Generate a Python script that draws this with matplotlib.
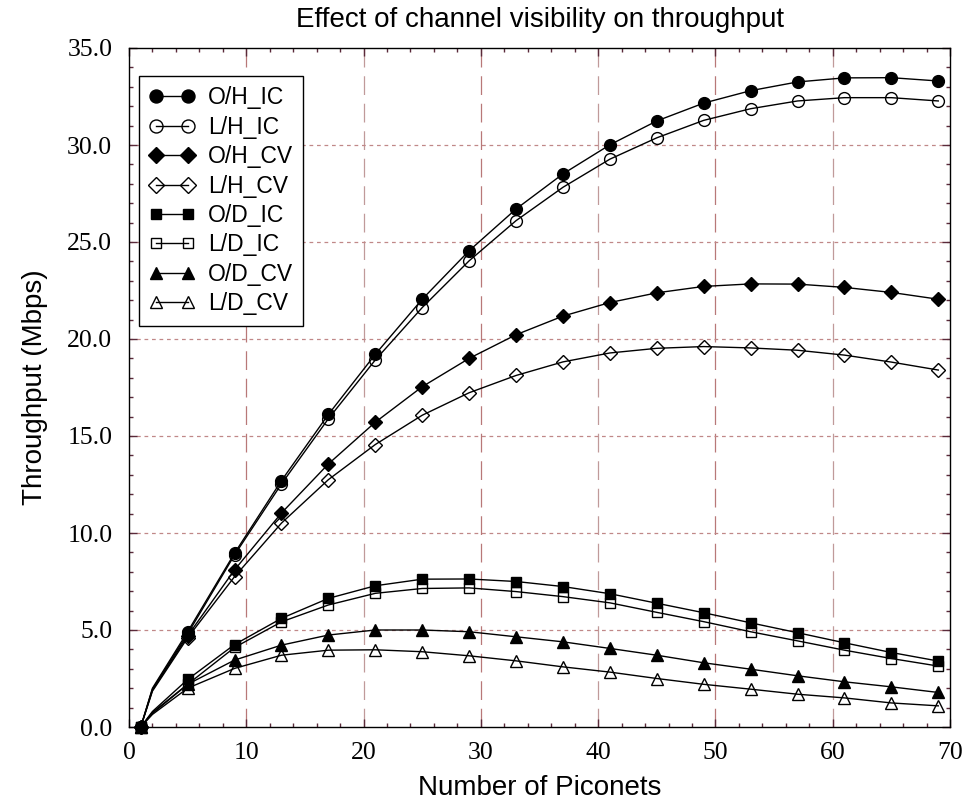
import matplotlib
matplotlib.use("Agg")
import matplotlib.pyplot as plt
from matplotlib.ticker import MultipleLocator, FormatStrFormatter

# ---- data ----
x = [1, 2, 5, 9, 13, 17, 21, 25, 29, 33, 37, 41, 45, 49, 53, 57, 61, 65, 69]
labels = ["O/H_IC", "L/H_IC", "O/H_CV", "L/H_CV", "O/D_IC", "L/D_IC", "O/D_CV", "L/D_CV"]
oh_ic = [0, 2.0, 4.91, 8.96, 12.7, 16.11, 19.21, 22.05, 24.55, 26.7, 28.51, 30.01, 31.24, 32.16, 32.8, 33.25, 33.46, 33.47, 33.3]
lh_ic = [0, 1.95, 4.8, 8.87, 12.53, 15.89, 18.92, 21.62, 24.03, 26.1, 27.82, 29.27, 30.37, 31.27, 31.87, 32.27, 32.44, 32.44, 32.27]
oh_cv = [0, 1.9, 4.7, 8.1, 11.03, 13.56, 15.71, 17.54, 19.0, 20.22, 21.18, 21.88, 22.38, 22.71, 22.84, 22.83, 22.66, 22.4, 22.05]
lh_cv = [0, 1.85, 4.6, 7.75, 10.51, 12.75, 14.56, 16.07, 17.23, 18.12, 18.82, 19.28, 19.52, 19.61, 19.54, 19.42, 19.17, 18.81, 18.4]
od_ic = [0, 0.8, 2.45, 4.25, 5.6, 6.63, 7.28, 7.62, 7.63, 7.5, 7.24, 6.87, 6.38, 5.89, 5.37, 4.86, 4.34, 3.84, 3.4]
ld_ic = [0, 0.75, 2.2, 4.1, 5.42, 6.29, 6.89, 7.14, 7.17, 6.98, 6.72, 6.4, 5.91, 5.43, 4.91, 4.44, 3.96, 3.53, 3.14]
od_cv = [0, 0.7, 2.2, 3.45, 4.22, 4.74, 5.0, 5.0, 4.91, 4.65, 4.39, 4.05, 3.7, 3.31, 2.98, 2.64, 2.33, 2.07, 1.78]
ld_cv = [0, 0.65, 2.0, 3.02, 3.7, 3.96, 3.98, 3.88, 3.67, 3.41, 3.1, 2.83, 2.5, 2.2, 1.95, 1.69, 1.5, 1.24, 1.09]
series = [oh_ic, lh_ic, oh_cv, lh_cv, od_ic, ld_ic, od_cv, ld_cv]
markers = ["o", "o", "D", "D", "s", "s", "^", "^"]
filled = [True, False, True, False, True, False, True, False]
msizes = [8.5, 8.5, 7.0, 7.0, 7.0, 7.0, 8.5, 8.5]
mark_idx = [0] + list(range(2, len(x)))

SANS = ["Liberation Sans", "DejaVu Sans"]
SERIF = ["Liberation Serif", "DejaVu Serif"]

fig = plt.figure(figsize=(9.69, 8.09), dpi=100)
ax = fig.add_axes([129/969, 1-727/809, 821/969, 679/809])

# grid
for gx in range(10, 70, 10):
    ax.axvline(gx, color="#b87878" if (gx // 10) % 2 else "#c09a9a",
               lw=0.9, ls=(0, (15, 7)), zorder=1)
for gy in range(5, 35, 5):
    ax.axhline(gy, color="#c08888", lw=0.9, ls=(0, (3, 3)), zorder=1)

for vals, lab, m, f, ms in zip(series, labels, markers, filled, msizes):
    ax.plot(x, vals, color="black", lw=1.0, marker=m, markersize=ms,
            markevery=mark_idx, markerfacecolor="black" if f else "none",
            markeredgecolor="black", markeredgewidth=1.0, label=lab,
            clip_on=False, zorder=3)

ax.set_xlim(0, 70)
ax.set_ylim(0, 35)
ax.xaxis.set_major_locator(MultipleLocator(10))
ax.xaxis.set_minor_locator(MultipleLocator(2))
ax.yaxis.set_major_locator(MultipleLocator(5))
ax.yaxis.set_minor_locator(MultipleLocator(1))
ax.yaxis.set_major_formatter(FormatStrFormatter("%.1f"))
ax.tick_params(which="both", direction="in", top=True, right=True, color="#5a2a3a")
ax.tick_params(which="major", length=6, width=1)
ax.tick_params(axis="y", which="major", pad=12)
ax.tick_params(axis="x", which="major", pad=11)
ax.tick_params(which="minor", length=3, width=1)
for lab in ax.get_xticklabels() + ax.get_yticklabels():
    lab.set_fontfamily(SERIF)
    lab.set_fontsize(18.5)
for sp in ax.spines.values():
    sp.set_linewidth(1.0)
    sp.set_color("black")

ax.set_xlabel("Number of Piconets", fontsize=20, family=SANS, labelpad=8)
ax.set_ylabel("Throughput (Mbps)", fontsize=20, family=SANS, labelpad=14)
ax.set_title("Effect of channel visibility on throughput", fontsize=20, family=SANS, pad=15)

leg = ax.legend(loc="upper left", bbox_to_anchor=(10/821, 1-28/679), borderaxespad=0,
                fancybox=False, frameon=True, edgecolor="black", framealpha=1,
                prop={"family": SANS, "size": 16.5}, numpoints=2, handlelength=2.0,
                handletextpad=0.55, labelspacing=0.28, borderpad=0.45, markerscale=1.1)
leg.get_frame().set_linewidth(1.0)
leg.set_zorder(5)

fig.savefig("out.png", dpi=100)
